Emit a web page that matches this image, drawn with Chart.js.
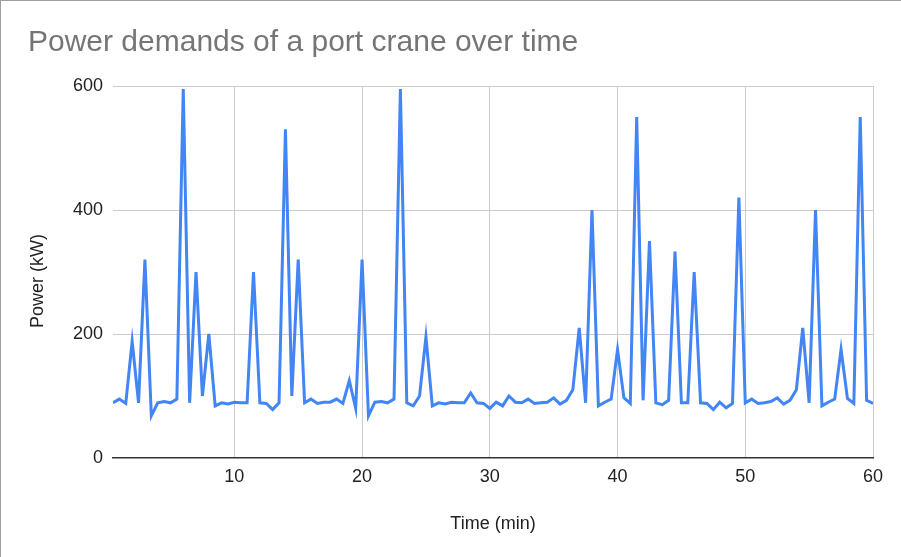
<!DOCTYPE html>
<html>
<head>
<meta charset="utf-8">
<script src="https://cdn.jsdelivr.net/npm/chart.js@4"></script>
<style>
  body { margin: 0; background: #fff; }
  #wrap { position: relative; width: 901px; height: 557px; }
  #frame { position: absolute; left: 0; top: 0; width: 901px; height: 557px; box-sizing: border-box;
           border-top: 1px solid #9e9e9e; border-left: 1px solid #9e9e9e; pointer-events: none; }
</style>
</head>
<body>
<div id="wrap">
  <canvas id="grafico" width="901" height="557"></canvas>
  <div id="frame"></div>
</div>
<script>
// Tempo (min) e potência (kW)
const tempos = [
  0.5, 1, 1.5, 2, 2.5, 3, 3.5, 4, 4.5, 5, 5.5, 6, 6.5, 7, 7.5, 8, 8.5, 9, 9.5, 10,
  10.5, 11, 11.5, 12, 12.5, 13, 13.5, 14, 14.5, 15, 15.5, 16, 16.5, 17, 17.5, 18, 18.5, 19, 19.5, 20,
  20.5, 21, 21.5, 22, 22.5, 23, 23.5, 24, 24.5, 25, 25.5, 26, 26.5, 27, 27.5, 28, 28.5, 29, 29.5, 30,
  30.5, 31, 31.5, 32, 32.5, 33, 33.5, 34, 34.5, 35, 35.5, 36, 36.5, 37, 37.5, 38, 38.5, 39, 39.5, 40,
  40.5, 41, 41.5, 42, 42.5, 43, 43.5, 44, 44.5, 45, 45.5, 46, 46.5, 47, 47.5, 48, 48.5, 49, 49.5, 50,
  50.5, 51, 51.5, 52, 52.5, 53, 53.5, 54, 54.5, 55, 55.5, 56, 56.5, 57, 57.5, 58, 58.5, 59, 59.5, 60
];
const potencia = [
  89, 95, 88, 188, 89, 320, 68, 89, 91, 89, 95, 595, 89, 300, 100, 200, 84, 89, 87, 90,
  89, 89, 300, 89, 88, 78, 89, 530, 100, 320, 89, 95, 88, 90, 90, 95, 88, 125, 80, 320,
  68, 90, 91, 89, 95, 595, 89, 84, 100, 195, 84, 89, 87, 90, 89, 89, 105, 89, 88, 80,
  90, 84, 100, 90, 89, 95, 88, 89, 90, 97, 87, 93, 110, 210, 89, 400, 84, 90, 95, 175,
  97, 88, 550, 93, 350, 89, 86, 93, 333, 89, 89, 300, 89, 88, 78, 90, 81, 88, 420, 89,
  95, 88, 89, 91, 97, 87, 93, 110, 210, 89, 400, 84, 90, 95, 175, 96, 88, 550, 93, 88
];
const ticksX = [10, 20, 30, 40, 50, 60];
const ticksY = [0, 200, 400, 600];

const titulo = 'Power demands of a port crane over time';
const tituloY = 'Power (kW)';

// título à esquerda e rótulo do eixo Y, desenhados como no original
const pluginTitulo = {
    id: 'pluginTitulo',
    afterDraw(chart) {
        const ctx = chart.ctx;
        ctx.save();
        ctx.font = '30px "Liberation Sans", Arial, sans-serif';
        ctx.fillStyle = '#757575';
        ctx.textBaseline = 'alphabetic';
        ctx.fillText(titulo, 28, 51);

        ctx.font = '18px "Liberation Sans", Arial, sans-serif';
        ctx.fillStyle = '#222';
        ctx.textAlign = 'center';
        ctx.textBaseline = 'middle';
        ctx.translate(38, 281);
        ctx.rotate(-Math.PI / 2);
        ctx.fillText(tituloY, 0, 0);
        ctx.restore();
    }
};

const fonte = { family: '"Liberation Sans", Arial, sans-serif', size: 18 };

const config = {
    type: 'line',
    data: {
        datasets: [{
            label: 'Power',
            data: tempos.map((t, i) => ({ x: t, y: potencia[i] })),
            borderColor: '#4285F4',
            borderWidth: 3,
            pointRadius: 0,
            tension: 0,
            fill: false
        }]
    },
    options: {
        responsive: false,
        animation: false,
        devicePixelRatio: 1,
        layout: { padding: { left: 27, right: 28, top: 86, bottom: 0 } },
        plugins: {
            legend: { display: false },
            tooltip: { enabled: false }
        },
        scales: {
            x: {
                type: 'linear',
                min: 0.5,
                max: 60,
                afterBuildTicks: scale => { scale.ticks = ticksX.map(v => ({ value: v })); },
                afterFit: scale => { scale.height = 99; },
                ticks: { color: '#222', font: fonte, padding: 8, maxRotation: 0 },
                grid: { color: '#cccccc', drawTicks: false },
                border: { display: true, color: '#333', width: 1.5 },
                title: { display: true, text: 'Time (min)', color: '#222', font: fonte, padding: { top: 0, bottom: 22 } }
            },
            y: {
                min: 0,
                max: 600,
                afterBuildTicks: scale => { scale.ticks = ticksY.map(v => ({ value: v })); },
                afterFit: scale => { scale.width = 86; },
                ticks: { color: '#222', font: fonte, padding: 10 },
                grid: { color: ctx => ctx.tick && ctx.tick.value === 0 ? 'rgba(0,0,0,0)' : '#cccccc', drawTicks: false },
                border: { display: false }
            }
        }
    },
    plugins: [pluginTitulo]
};

const ctx = document.getElementById('grafico').getContext('2d');
const grafico = new Chart(ctx, config);
</script>
</body>
</html>
